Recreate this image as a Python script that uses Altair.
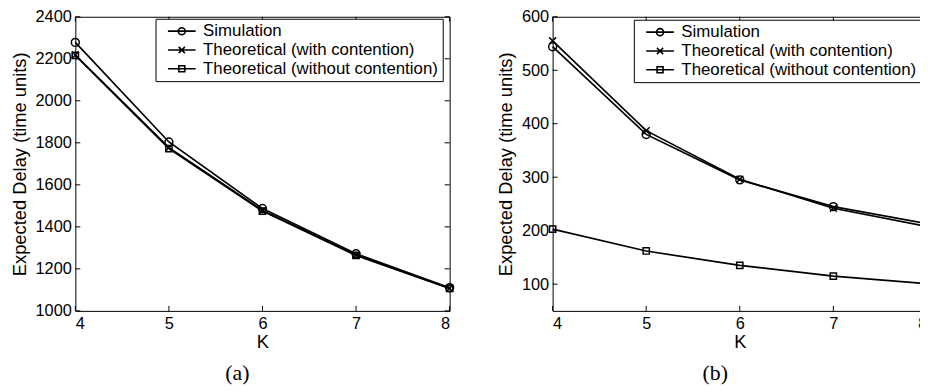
import altair as alt
import pandas as pd

# ---------------- data ----------------
K_VALUES = [4, 5, 6, 7, 8]
SERIES = ["Simulation", "Theoretical (with contention)", "Theoretical (without contention)"]

A_SIM = [2278, 1804, 1487, 1272, 1110]
A_WITH = [2218, 1777, 1478, 1266, 1108]
A_WITHOUT = [2216, 1772, 1475, 1264, 1107]

B_SIM = [544, 380, 295, 245, 213]
B_WITH = [555, 387, 296, 242, 208]
B_WITHOUT = [203, 162, 135, 115, 101]

X_TICKS = [4, 5, 6, 7, 8]
A_Y_TICKS = [1000, 1200, 1400, 1600, 1800, 2000, 2200, 2400]
B_Y_TICKS = [100, 200, 300, 400, 500, 600]
A_Y_DOMAIN = [1000, 2400]
B_Y_DOMAIN = [50, 600]
CAPTIONS = ["(a)", "(b)"]

# ---------------- styling ----------------
W, H = 378, 297
SANS = "Liberation Sans"
SERIF = "Liberation Serif"

MARKERS = [("circle", 64), ("M-1,-1L1,1M-1,1L1,-1", 49), ("square", 40)]
LEGEND_PATHS = [
    "M-2,0L2,0M0.5,0A0.5,0.5 0 1,1 -0.5,0A0.5,0.5 0 1,1 0.5,0",
    "M-2,0L2,0M-0.45,-0.45L0.45,0.45M-0.45,0.45L0.45,-0.45",
    "M-2,0L2,0M-0.43,-0.43L0.43,-0.43L0.43,0.43L-0.43,0.43Z",
]


def panel(sim, with_c, without_c, y_domain, y_ticks, caption, lx, ly, cap_dx):
    df = pd.DataFrame({
        "K": K_VALUES * 3,
        "delay": sim + with_c + without_c,
        "series": [SERIES[0]] * 5 + [SERIES[1]] * 5 + [SERIES[2]] * 5,
    })
    xenc = alt.X("K:Q", scale=alt.Scale(domain=[4, 8], nice=False, zero=False),
                 axis=alt.Axis(values=X_TICKS, format="d", title="K",
                               labelPadding=5, titlePadding=0))
    yenc = alt.Y("delay:Q", scale=alt.Scale(domain=y_domain, nice=False, zero=False),
                 axis=alt.Axis(values=y_ticks, format="d",
                               title="Expected Delay (time units)",
                               labelPadding=4, titlePadding=6))
    base = alt.Chart(df)
    lines = base.mark_line(color="black", strokeWidth=1.7).encode(
        x=xenc, y=yenc, detail="series:N")
    pts = []
    for s, (shp, sz) in zip(SERIES, MARKERS):
        pts.append(
            base.transform_filter(alt.datum.series == s)
            .mark_point(shape=shp, size=sz, filled=False, color="black",
                        opacity=1, strokeWidth=1.5)
            .encode(x=xenc, y=yenc)
        )
    leg = base.transform_filter("false").mark_point(
        filled=False, color="black", opacity=1, strokeWidth=1.6
    ).encode(
        x=xenc, y=yenc,
        shape=alt.Shape("series:N",
                        scale=alt.Scale(domain=SERIES, range=LEGEND_PATHS),
                        legend=alt.Legend(
                            orient="none", legendX=lx, legendY=ly, title=None,
                            strokeColor="black", fillColor="white",
                            padding=4, cornerRadius=0,
                            labelFont=SANS, labelFontSize=17, labelColor="black",
                            labelLimit=0, symbolSize=196,
                            symbolStrokeColor="black", symbolStrokeWidth=1.6,
                            symbolFillColor="transparent",
                            symbolOffset=14, labelOffset=13, rowPadding=1,
                        )),
    )
    xt = pd.DataFrame({"K": X_TICKS})
    yt = pd.DataFrame({"delay": y_ticks})
    top = alt.Chart(xt).mark_rule(color="black").encode(
        x=xenc, y=alt.value(0), y2=alt.value(5))
    bottom = alt.Chart(xt).mark_rule(color="black").encode(
        x=xenc, y=alt.value(H), y2=alt.value(H - 5))
    left = alt.Chart(yt).mark_rule(color="black").encode(
        y=yenc, x=alt.value(0), x2=alt.value(5))
    right = alt.Chart(yt).mark_rule(color="black").encode(
        y=yenc, x=alt.value(W), x2=alt.value(W - 5))
    return alt.layer(lines, *pts, leg, top, bottom, left, right).properties(
        width=W, height=H,
        title=alt.TitleParams(caption, orient="bottom", font=SERIF, fontSize=22,
                              fontWeight="normal", color="black", offset=13,
                              frame="bounds", anchor="middle", dx=cap_dx),
    )


pa = panel(A_SIM, A_WITH, A_WITHOUT, A_Y_DOMAIN, A_Y_TICKS, CAPTIONS[0], 81, 2, 4)
pb = panel(B_SIM, B_WITH, B_WITHOUT, B_Y_DOMAIN, B_Y_TICKS, CAPTIONS[1], 82, 3, 0)

chart = alt.hconcat(pa, pb, spacing=38).resolve_scale(
    shape="independent").resolve_legend(shape="independent").properties(
    padding={"left": 1, "top": -2, "right": -15, "bottom": 0},
    background="white",
).configure_view(stroke="black", strokeWidth=1).configure_axis(
    grid=False, ticks=False, tickSize=0, domain=False,
    labelFont=SANS, labelFontSize=16.5, labelColor="black",
    titleFont=SANS, titleFontSize=18.5, titleFontWeight="normal", titleColor="black",
)

chart.save("out.html", embed_options={"renderer": "svg", "actions": False})
